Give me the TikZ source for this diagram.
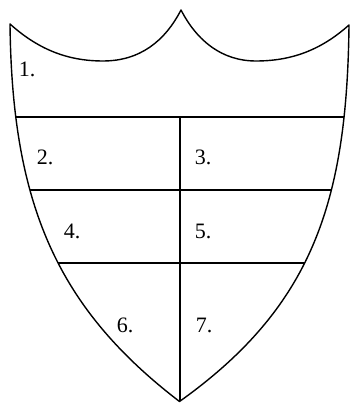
\documentclass[tikz,border=0pt]{standalone}
\usepackage{fontspec}
\setmainfont{Liberation Serif}
\begin{document}
\begin{tikzpicture}[x=1pt,y=1pt,
  edge/.style={line width=1.4pt, line join=round},
  lab/.style={font=\fontsize{22}{25}\selectfont, inner sep=0pt}]
\useasboundingbox (0,0) rectangle (350,403);
\def\shield{(10,379) .. controls (40,352) and (70,342) .. (103,342)
  .. controls (140,342) and (165,362) .. (181,393)
  .. controls (197,362) and (222,342) .. (256,342)
  .. controls (290,342) and (320,352) .. (349,378)
  .. controls (347,200) and (312,96) .. (179.5,1.5)
  .. controls (56,96) and (12,200) .. cycle}
\begin{scope}
  \clip \shield;
  \draw[edge] (0,286) -- (360,286);
  \draw[edge] (0,213) -- (360,213);
  \draw[edge] (0,140) -- (360,140);
  \draw[edge] (180,286) -- (180,0);
\end{scope}
\draw[edge] \shield;
\node[lab] (n1) at (27,334) {1.};
\node[lab] (n2) at (45,246) {2.};
\node[lab] (n3) at (203,246) {3.};
\node[lab] (n4) at (72,172) {4.};
\node[lab] (n5) at (203,172) {5.};
\node[lab] (n6) at (125,78) {6.};
\node[lab] (n7) at (204,78) {7.};
\end{tikzpicture}
\end{document}
